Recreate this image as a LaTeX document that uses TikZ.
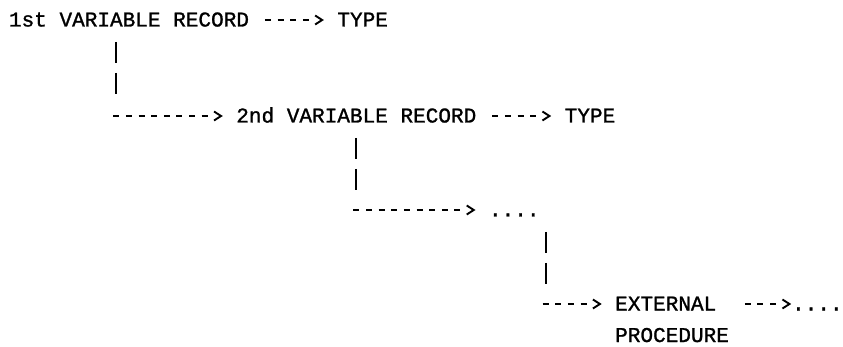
\documentclass[tikz,border=0pt]{standalone}
\usepackage{fontspec}
\newfontfamily\monof[FakeBold=1.2]{Liberation Mono}
\usetikzlibrary{calc,arrows.meta}

\pgfdeclarearrow{
  name = Chev,
  parameters = {\the\pgfarrowlength,\the\pgfarrowwidth},
  setup code = {
    \pgfarrowssettipend{0pt}
    \pgfarrowssetlineend{-\pgfarrowlength}
    \pgfarrowssetbackend{-\pgfarrowlength}
    \pgfarrowssavethe\pgfarrowlength
    \pgfarrowssavethe\pgfarrowwidth
  },
  drawing code = {
    \pgfsetdash{}{0pt}
    \pgfsetbuttcap
    \pgfsetmiterjoin
    \pgfpathmoveto{\pgfqpoint{-\pgfarrowlength}{.5\pgfarrowwidth}}
    \pgfpathlineto{\pgfpointorigin}
    \pgfpathlineto{\pgfqpoint{-\pgfarrowlength}{-.5\pgfarrowwidth}}
    \pgfusepathqstroke
  },
  defaults = {length = 7pt, width = 9pt}
}

\def\pw{12.63}

\begin{document}
\begin{tikzpicture}[x=1pt,y=-1pt,
  lbl/.style={anchor=base west,inner sep=0pt,outer sep=0pt,
    font={\monof\fontsize{21.05pt}{31.33pt}\selectfont}},
  hconn/.style={line width=1.9pt, dash pattern=on 6pt off 6.63pt,
    -{Chev[length=7pt,width=9pt]}},
  vconn/.style={line width=1.9pt, dash pattern=on 21pt off 10pt on 21pt off 60pt}]
\useasboundingbox (0,0) rectangle (843,347);

\node[lbl] (n1)   at (9,26.5)      {1st VARIABLE RECORD};
\node[lbl] (t1)   at (337.4,26.5)  {TYPE};
\node[lbl] (n2)   at (236.3,122.5) {2nd VARIABLE RECORD};
\node[lbl] (t2)   at (564.7,122.5) {TYPE};
\node[lbl] (d3)   at (489,216.5)   {....};
\node[lbl] (ext)  at (615.2,310.5) {EXTERNAL};
\node[lbl] (proc) at (615.2,342)   {PROCEDURE};
\node[lbl] (d4)   at (792.1,310.5) {....};

% row 1
\draw[hconn] ($(n1.base east)+(\pw+3.3,-6.5)$) -- ($(t1.base west)+(-2*\pw+10,-6.5)$);
% n1 -> n2
\coordinate (v1) at ($(n1.base west)+(8.5*\pw,15.5)$);
\coordinate (h1) at ($(n2.base west)+(-10*\pw+3.3,-6.5)$);
\draw[vconn] (v1) -- (v1 |- h1);
\draw[hconn] (h1) -- ($(n2.base west)+(-2*\pw+10,-6.5)$);
% n2 -> t2
\draw[hconn] ($(n2.base east)+(\pw+3.3,-6.5)$) -- ($(t2.base west)+(-2*\pw+10,-6.5)$);
% n2 -> d3
\coordinate (v2) at ($(n2.base west)+(9.5*\pw,15.5)$);
\coordinate (h2) at ($(d3.base west)+(-11*\pw+3.3,-6.5)$);
\draw[vconn] (v2) -- (v2 |- h2);
\draw[hconn] (h2) -- ($(d3.base west)+(-2*\pw+10,-6.5)$);
% d3 -> ext
\coordinate (v3) at ($(d3.base west)+(4.5*\pw,15.5)$);
\coordinate (h3) at ($(ext.base west)+(-6*\pw+3.3,-6.5)$);
\draw[vconn] (v3) -- (v3 |- h3);
\draw[hconn] (h3) -- ($(ext.base west)+(-2*\pw+10,-6.5)$);
% ext -> d4
\draw[hconn] ($(ext.base east)+(2*\pw+3.3,-6.5)$) -- ($(d4.base west)+(-\pw+10,-6.5)$);
\end{tikzpicture}
\end{document}
